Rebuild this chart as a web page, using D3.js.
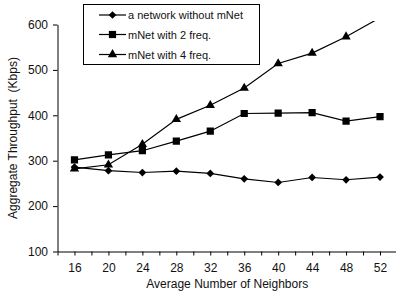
<!DOCTYPE html>
<html>
<head>
<meta charset="utf-8">
<script src="https://cdn.jsdelivr.net/npm/d3@7"></script>
<style>
  body { margin: 0; background: #fff; }
  svg { display: block; font-family: "Liberation Sans", Arial, Helvetica, sans-serif; }
</style>
</head>
<body>
<svg id="chart"></svg>
<script>
const neighbors = [16, 20, 24, 28, 32, 36, 40, 44, 48, 52];
const withoutMNet = [286, 278, 274, 277, 272, 260, 252, 263, 258, 264];
const mNet2Freq = [302, 313, 322, 343, 365, 404, 405, 406, 387, 397];
const mNet4Freq = [282, 291, 336, 391, 422, 460, 514, 537, 573, 615];
const seriesNames = ['a network without mNet', 'mNet with 2 freq.', 'mNet with 4 freq.'];
const yTicks = [100, 200, 300, 400, 500, 600];

const width = 396;
const height = 297;

const svg = d3.select('#chart')
  .attr('width', width)
  .attr('height', height);

const xScale = d3.scaleLinear()
  .domain([14, 54])
  .range([57.5, 397]);

const yScale = d3.scaleLinear()
  .domain([100, 600])
  .range([251.5, 24.5]);

// diamond = square turned 45 degrees (Excel style, wider than d3's diamond)
const series = [
  { name: seriesNames[0], values: withoutMNet, shape: d3.symbolSquare, size: 30, rot: 45 },
  { name: seriesNames[1], values: mNet2Freq, shape: d3.symbolSquare, size: 52, rot: 0 },
  { name: seriesNames[2], values: mNet4Freq, shape: d3.symbolTriangle, size: 38, rot: 0 }
];

// clip the lines to the plot area (a bit of slack at the top like the original)
svg.append('clipPath')
  .attr('id', 'plot-clip')
  .append('rect')
  .attr('x', xScale.range()[0])
  .attr('y', 21)
  .attr('width', xScale.range()[1] - xScale.range()[0])
  .attr('height', yScale.range()[0] - 21);

// axes
const xAxis = d3.axisBottom(xScale)
  .tickValues(d3.range(14, 55, 2))
  .tickFormat(d => neighbors.includes(d) ? d : '')
  .tickSizeInner(4)
  .tickSizeOuter(0)
  .tickPadding(8);

const yAxis = d3.axisLeft(yScale)
  .tickValues(yTicks)
  .tickSizeInner(4.5)
  .tickSizeOuter(0)
  .tickPadding(5);

const gx = svg.append('g')
  .attr('transform', 'translate(0,' + yScale.range()[0] + ')')
  .call(xAxis);

const gy = svg.append('g')
  .attr('transform', 'translate(' + xScale.range()[0] + ',0)')
  .call(yAxis);

[gx, gy].forEach(g => {
  g.select('.domain').attr('stroke', '#000').attr('stroke-width', 1);
  g.selectAll('.tick line').attr('stroke', '#000');
  g.selectAll('.tick text').attr('fill', '#111').style('font-size', '12px');
});

// axis titles
svg.append('text')
  .attr('x', (xScale.range()[0] + xScale.range()[1]) / 2)
  .attr('y', 288)
  .attr('text-anchor', 'middle')
  .attr('fill', '#111')
  .style('font-size', '12px')
  .text('Average Number of Neighbors');

svg.append('text')
  .attr('transform', 'translate(17,' + ((yScale.range()[0] + yScale.range()[1]) / 2) + ') rotate(-90)')
  .attr('text-anchor', 'middle')
  .attr('fill', '#111')
  .style('font-size', '12px')
  .style('white-space', 'pre')
  .text('Aggregate Throughput  (Kbps)');

// lines and markers
const line = d3.line()
  .x((d, i) => xScale(neighbors[i]))
  .y(d => yScale(d));

const plot = svg.append('g').attr('clip-path', 'url(#plot-clip)');

series.forEach(s => {
  plot.append('path')
    .datum(s.values)
    .attr('fill', 'none')
    .attr('stroke', '#000')
    .attr('stroke-width', 1.2)
    .attr('d', line);

  plot.selectAll(null)
    .data(s.values)
    .enter()
    .append('path')
    .attr('d', d3.symbol().type(s.shape).size(s.size))
    .attr('transform', (d, i) => 'translate(' + xScale(neighbors[i]) + ',' + yScale(d) + ') rotate(' + s.rot + ')')
    .attr('fill', '#000');
});

// legend
const legend = svg.append('g');
legend.append('rect')
  .attr('x', 83.5)
  .attr('y', 4.5)
  .attr('width', 176)
  .attr('height', 60)
  .attr('fill', '#fff')
  .attr('stroke', '#000')
  .attr('stroke-width', 1);

const rowY = [15, 34.5, 54.5];
series.forEach((s, i) => {
  const g = legend.append('g').attr('transform', 'translate(0,' + rowY[i] + ')');
  g.append('line')
    .attr('x1', 99).attr('x2', 126)
    .attr('stroke', '#000')
    .attr('stroke-width', 1.2);
  g.append('path')
    .attr('d', d3.symbol().type(s.shape).size(s.size))
    .attr('transform', 'translate(112.5,0) rotate(' + s.rot + ')')
    .attr('fill', '#000');
  g.append('text')
    .attr('x', 128)
    .attr('y', 4)
    .attr('fill', '#111')
    .style('font-size', '11px')
    .text(s.name);
});
</script>
</body>
</html>
